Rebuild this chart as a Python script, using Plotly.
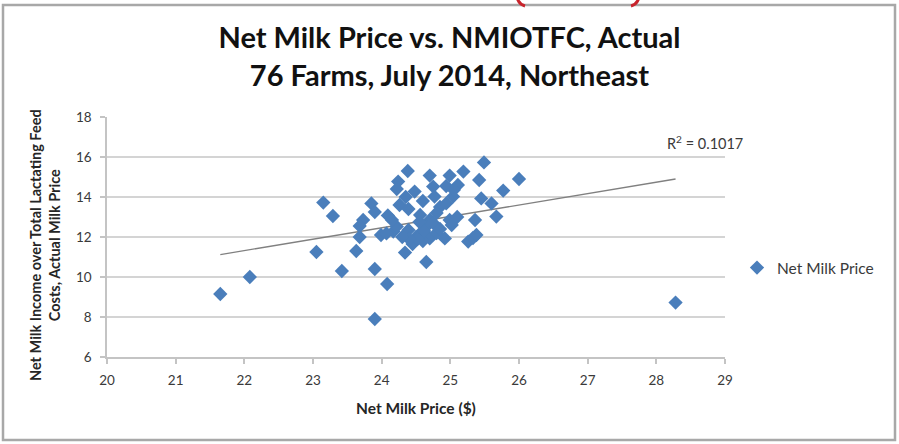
import numpy as np
import plotly.graph_objects as go

# Net milk price ($/cwt) and NMIOTFC ($/cwt) for the 76 farms
net_milk_price = [
    21.65, 22.08, 23.05, 23.42, 23.90, 24.08, 23.90, 24.65, 28.28, 26.00,
    25.49, 23.15, 23.29, 24.38, 24.70, 24.99, 25.19, 25.42, 25.77, 24.24,
    24.22, 24.48, 24.75, 24.94, 25.11, 24.77, 25.04, 25.45, 25.60, 25.67,
    25.36, 23.85, 23.90, 24.09, 23.73, 23.68, 24.26, 24.39, 24.56, 24.85,
    24.94, 24.99, 24.70, 23.68, 23.99, 24.17, 24.39, 24.56, 24.70, 24.92,
    25.02, 25.26, 25.33, 25.38, 24.65, 24.22, 24.07, 23.63, 24.34, 24.50,
    24.60, 24.45, 24.62, 24.52, 24.80, 24.40, 24.30, 24.75, 24.55, 24.80,
    25.10, 24.35, 24.60, 25.05, 24.15, 24.85,
]
nmiotfc = [
    9.15, 10.00, 11.25, 10.30, 10.40, 9.65, 7.90, 10.75, 8.72, 14.90,
    15.73, 13.72, 13.05, 15.30, 15.07, 15.07, 15.27, 14.85, 14.32, 14.77,
    14.40, 14.27, 14.52, 14.55, 14.60, 14.02, 14.02, 13.93, 13.68, 13.02,
    12.85, 13.68, 13.25, 13.08, 12.85, 12.55, 13.60, 13.40, 13.10, 13.50,
    13.68, 12.85, 12.85, 12.00, 12.10, 12.27, 12.35, 12.18, 11.93, 11.93,
    12.60, 11.77, 11.95, 12.10, 12.52, 12.52, 12.18, 11.30, 11.22, 12.00,
    11.80, 11.65, 12.30, 11.90, 12.20, 11.90, 12.00, 12.70, 12.75, 13.20,
    13.00, 14.00, 13.80, 14.35, 12.85, 12.40,
]

# Linear trendline and its fit statistic
trend_slope = 0.57
trend_intercept = -1.22
r_squared = 0.1017

x_ticks = [20, 21, 22, 23, 24, 25, 26, 27, 28, 29]
y_ticks = [6, 8, 10, 12, 14, 16, 18]

series_name = "Net Milk Price"
title_lines = ["Net Milk Price vs. NMIOTFC, Actual", "76 Farms, July 2014, Northeast"]
x_title = "Net Milk Price ($)"
y_title_lines = ["Net Milk Income over Total Lactating Feed", "Costs, Actual Milk Price"]

W, H = 899, 444
L, R, T, B = 107, 725, 117, 357  # plot-area edges in pixels


def px_x(px):
    return (px - L) / (R - L)


def px_y(py):
    return (B - py) / (B - T)


FONT = "Lato"
BLUE = "#4A7EBB"
GRID = "#d4d4d4"
TEXT = "#3a3a3a"

trend_x = np.array([min(net_milk_price), max(net_milk_price)])
trend_y = trend_slope * trend_x + trend_intercept

fig = go.Figure()
fig.add_trace(go.Scatter(
    x=trend_x, y=trend_y, mode="lines",
    line=dict(color="#808080", width=1.3),
    showlegend=False, hoverinfo="skip",
))
fig.add_trace(go.Scatter(
    x=net_milk_price, y=nmiotfc, mode="markers", name=series_name,
    marker=dict(symbol="diamond", size=11, color=BLUE, line=dict(width=0)),
))

# outer chart frame
fig.add_shape(type="rect", xref="paper", yref="paper",
              x0=px_x(3), x1=px_x(895), y0=px_y(440), y1=px_y(5),
              line=dict(color="#a8a8a8", width=2.5), fillcolor="rgba(0,0,0,0)")
# red marker ring peeking above the frame
fig.add_shape(type="path", xref="paper", yref="paper",
              path=f"M {px_x(517.5)} {px_y(-1)} Q {px_x(519.5)} {px_y(4.5)} {px_x(525)} {px_y(6)}",
              line=dict(color="#c8232b", width=3))
fig.add_shape(type="path", xref="paper", yref="paper",
              path=f"M {px_x(638.5)} {px_y(-1)} Q {px_x(636.5)} {px_y(4.5)} {px_x(631)} {px_y(6)}",
              line=dict(color="#c8232b", width=3))

# axis titles
fig.add_annotation(xref="paper", yref="paper", x=px_x(416), y=px_y(408),
                   xanchor="center", yanchor="middle",
                   text=f"<b>{x_title}</b>", showarrow=False,
                   font=dict(family=FONT, size=15.5, color="#262626"))
fig.add_annotation(xref="paper", yref="paper", x=px_x(45), y=px_y(245),
                   xanchor="center", yanchor="middle",
                   text=f"<b>{y_title_lines[0]}<br>{y_title_lines[1]}</b>",
                   textangle=-90, showarrow=False,
                   font=dict(family=FONT, size=14.5, color="#262626"))
# R-squared label
fig.add_annotation(xref="paper", yref="paper", x=px_x(705), y=px_y(142),
                   xanchor="center", yanchor="middle",
                   text=f"R<sup>2</sup> = {r_squared:.4f}", showarrow=False,
                   font=dict(family=FONT, size=14.5, color=TEXT))

fig.update_layout(
    width=W, height=H,
    margin=dict(l=L, r=W - R, t=T, b=H - B),
    paper_bgcolor="white", plot_bgcolor="white",
    title=dict(
        text="<b>" + "<br>".join(title_lines) + "</b>",
        x=0.5, xref="container", xanchor="center",
        y=1 - 48 / H, yref="container", yanchor="middle",
        font=dict(family=FONT, size=29, color="#111111"),
    ),
    showlegend=True,
    legend=dict(
        xref="paper", yref="paper", x=px_x(737), y=px_y(268),
        xanchor="left", yanchor="middle",
        font=dict(family=FONT, size=15.5, color=TEXT),
        bgcolor="rgba(0,0,0,0)", itemwidth=30,
    ),
    xaxis=dict(
        range=[20, 29], tickvals=x_ticks, ticktext=[str(v) for v in x_ticks],
        showgrid=False, zeroline=False,
        showline=True, linecolor="#c4c4c4", linewidth=1.5,
        ticks="outside", ticklen=5, tickcolor="#c4c4c4", tickwidth=1.5,
        tickfont=dict(family=FONT, size=13.5, color=TEXT),
        ticklabelstandoff=5,
    ),
    yaxis=dict(
        range=[6, 18], tickvals=y_ticks, ticktext=[str(v) for v in y_ticks],
        showgrid=True, gridcolor=GRID, gridwidth=1.5, zeroline=False,
        showline=True, linecolor="#c4c4c4", linewidth=1.5,
        ticks="outside", ticklen=5, tickcolor="#c4c4c4", tickwidth=1.5,
        tickfont=dict(family=FONT, size=13.5, color=TEXT),
        ticklabelstandoff=6,
    ),
)

fig.write_html("out.html")
